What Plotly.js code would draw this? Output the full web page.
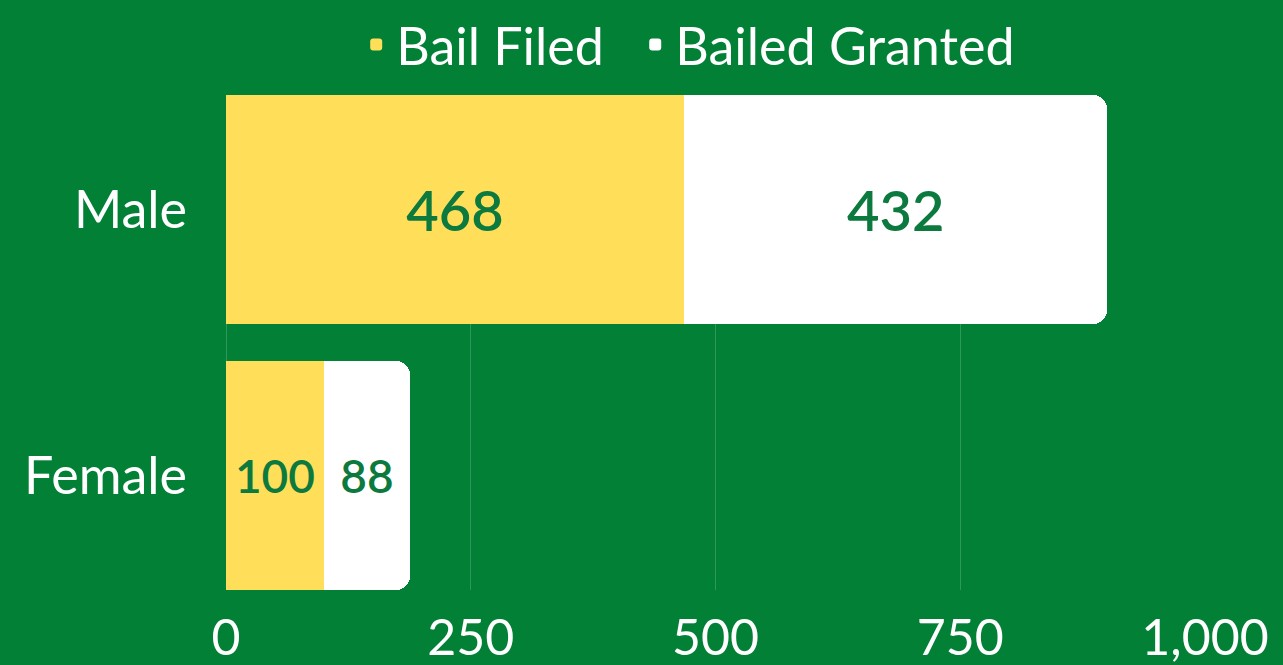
<!DOCTYPE html>
<html>
<head>
<meta charset="utf-8">
<script src="https://cdn.plot.ly/plotly-3.0.1.min.js"></script>
<style>html,body{margin:0;padding:0;background:#018036;}#chart{width:1283px;height:665px;}</style>
</head>
<body>
<div id="chart"></div>
<script>
const categories = ['Male', 'Female'];
const bailFiled = [468, 100];
const bailGranted = [432, 88];
const seriesNames = ['Bail Filed', 'Bailed Granted'];
const xTickVals = [0, 250, 500, 750, 1000];
const xTickText = ['0', '250', '500', '750', '1,000'];

const FONT = 'Lato, "Open Sans", sans-serif';
const BG = '#018036';
const TXT = '#0c7a3e';

const traces = [
  {
    type: 'bar', orientation: 'h', name: seriesNames[0], legend: 'legend',
    y: categories, x: bailFiled,
    marker: {color: '#ffdf5a', line: {width: 0}},
    text: bailFiled.map(String), textposition: 'inside', insidetextanchor: 'middle',
    textfont: {family: FONT, size: [56, 46], color: TXT, weight: 600},
    hoverinfo: 'none'
  },
  {
    type: 'bar', orientation: 'h', name: seriesNames[1], legend: 'legend2',
    y: categories, x: bailGranted,
    marker: {color: '#ffffff', line: {width: 0}},
    text: bailGranted.map(String), textposition: 'inside', insidetextanchor: 'middle',
    textfont: {family: FONT, size: [56, 46], color: TXT, weight: 600},
    hoverinfo: 'none'
  }
];

const legendBase = {
  orientation: 'h', y: 1.02, yanchor: 'bottom', xanchor: 'left',
  font: {family: FONT, size: 52, color: '#ffffff'},
  bgcolor: 'rgba(0,0,0,0)', itemwidth: 30
};

const layout = {
  width: 1283, height: 665,
  paper_bgcolor: BG, plot_bgcolor: BG,
  margin: {l: 226, r: 78, t: 95, b: 75, autoexpand: false},
  barmode: 'stack',
  bargap: 0.139,
  barcornerradius: 14,
  font: {family: FONT, color: '#ffffff'},
  showlegend: true,
  legend: Object.assign({}, legendBase, {x: 0.133}),
  legend2: Object.assign({}, legendBase, {x: 0.418}),
  xaxis: {
    range: [0, 1000], tickvals: xTickVals, ticktext: xTickText,
    showgrid: true, gridcolor: 'rgba(255,255,255,0.18)', gridwidth: 1,
    zeroline: true, zerolinecolor: 'rgba(255,255,255,0.18)', zerolinewidth: 1,
    showline: false, ticks: '', ticklabelstandoff: 14,
    tickfont: {family: FONT, size: 50, color: '#ffffff'}
  },
  yaxis: {
    type: 'category', categoryorder: 'array', categoryarray: categories,
    range: [1.4305, -0.4305],
    showgrid: false, zeroline: false, showline: false, ticks: '',
    ticklabelstandoff: 38,
    tickfont: {family: FONT, size: 52, color: '#ffffff'}
  }
};

Plotly.newPlot('chart', traces, layout, {staticPlot: true, displayModeBar: false});
</script>
</body>
</html>
